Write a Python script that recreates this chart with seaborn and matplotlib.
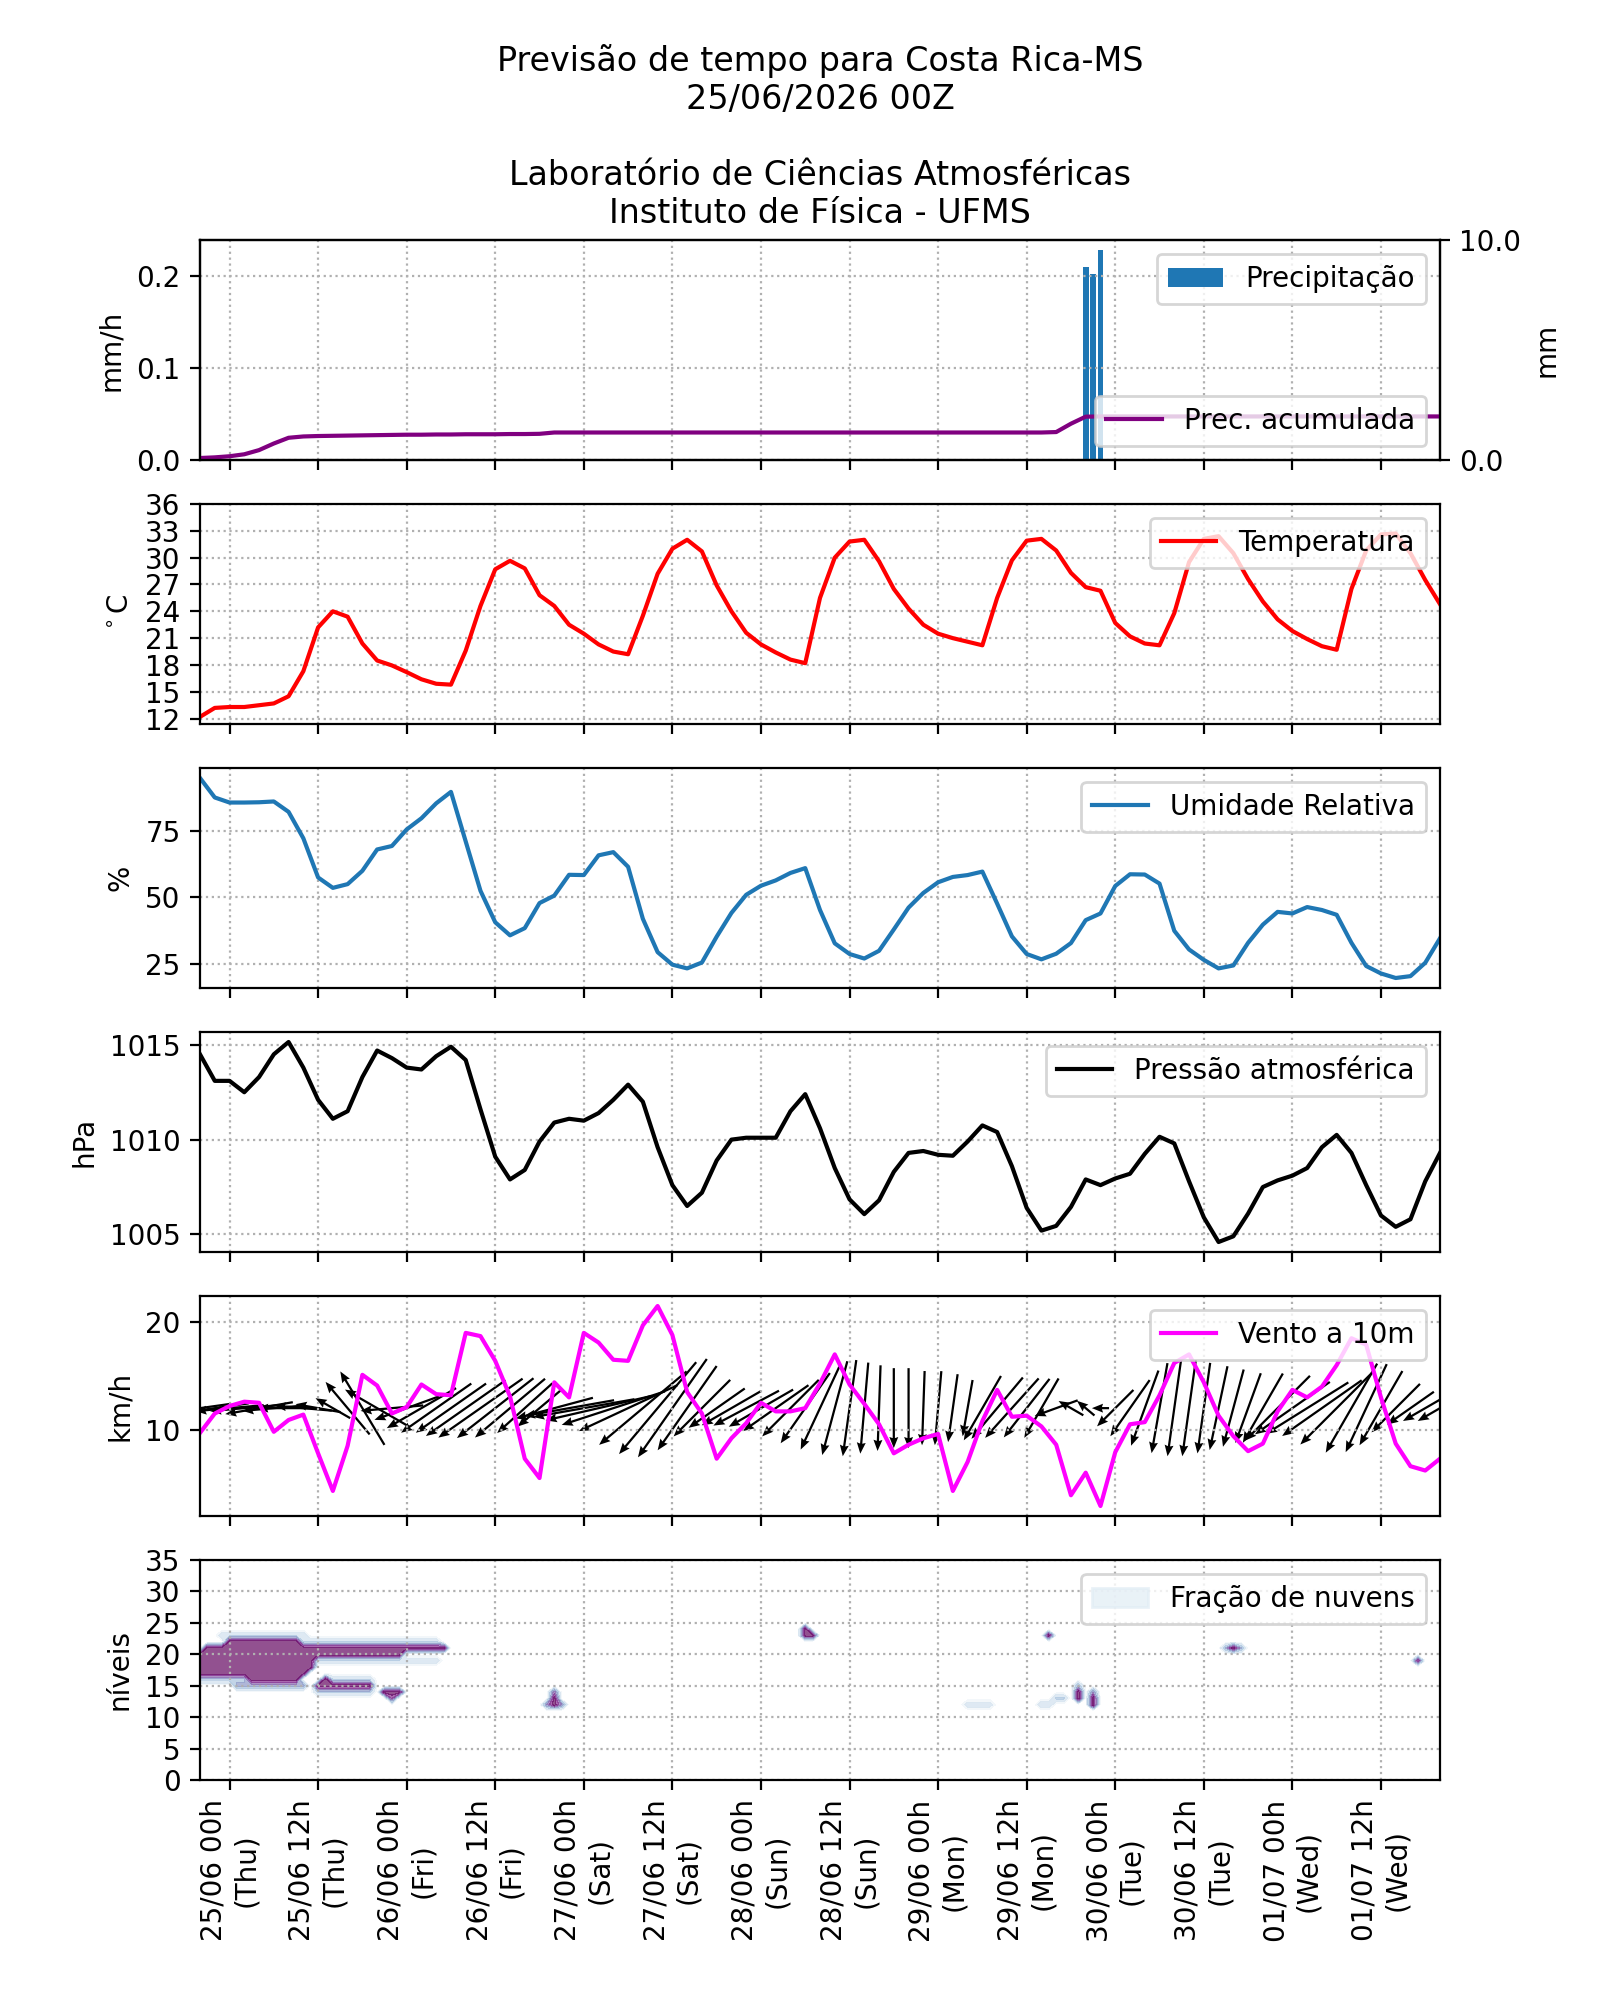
import numpy as np
import matplotlib
matplotlib.use("Agg")
import matplotlib.pyplot as plt
from matplotlib.patches import Patch
from matplotlib.ticker import FormatStrFormatter
import seaborn as sns

# horas a partir de 25/06 00h (hora local), passo de 2h
horas = np.arange(-4, 165, 2)

temperatura = [12.2, 13.2, 13.3, 13.3, 13.5, 13.7, 14.5, 17.3, 22.2, 24.0,
               23.4, 20.4, 18.5, 17.95, 17.2, 16.4, 15.9, 15.8, 19.6, 24.6,
               28.7, 29.65, 28.8, 25.8, 24.6, 22.5, 21.5, 20.3, 19.5, 19.2,
               23.5, 28.2, 31.0, 32.0, 30.7, 26.9, 24.0, 21.6, 20.3, 19.4,
               18.6, 18.2, 25.5, 30.0, 31.8, 32.0, 29.6, 26.5, 24.3, 22.5,
               21.5, 21.0, 20.6, 20.2, 25.5, 29.7, 31.9, 32.1, 30.8, 28.3,
               26.7, 26.3, 22.7, 21.2, 20.4, 20.2, 23.8, 29.5, 32.1, 32.4,
               30.5, 27.6, 25.1, 23.1, 21.8, 20.9, 20.1, 19.7, 26.5, 30.8,
               32.6, 32.7, 30.5, 27.5, 24.8]

umidade = [94.8, 87.5, 85.6, 85.6, 85.7, 86.0, 82.1, 72.2, 57.5, 53.6,
           55.0, 60.0, 68.0, 69.3, 75.5, 79.7, 85.3, 89.6, 71.0, 52.5,
           40.7, 35.8, 38.5, 47.9, 50.7, 58.5, 58.4, 65.8, 67.0, 61.5,
           42.0, 29.5, 24.8, 23.4, 25.6, 35.3, 44.2, 51.0, 54.4, 56.4,
           59.2, 61.0, 45.3, 32.8, 28.8, 27.1, 30.0, 38.0, 46.2, 51.7,
           55.7, 57.7, 58.4, 59.7, 47.7, 35.4, 28.8, 26.8, 28.9, 32.9,
           41.5, 44.0, 54.3, 58.7, 58.6, 55.2, 37.5, 30.5, 26.6, 23.4,
           24.5, 33.0, 39.8, 44.6, 44.0, 46.4, 45.3, 43.5, 33.0, 24.3,
           21.5, 19.8, 20.5, 25.5, 34.7]

pressao = [1014.5, 1013.1, 1013.1, 1012.5, 1013.3, 1014.5, 1015.15, 1013.8, 1012.1, 1011.1,
           1011.5, 1013.3, 1014.7, 1014.3, 1013.8, 1013.7, 1014.4, 1014.9, 1014.2, 1011.6,
           1009.1, 1007.9, 1008.4, 1009.9, 1010.9, 1011.1, 1011.0, 1011.4, 1012.1, 1012.9,
           1012.0, 1009.6, 1007.6, 1006.5, 1007.2, 1008.9, 1010.0, 1010.1, 1010.1, 1010.1,
           1011.5, 1012.4, 1010.6, 1008.5, 1006.85, 1006.07, 1006.8, 1008.3, 1009.3, 1009.4,
           1009.2, 1009.15, 1009.9, 1010.75, 1010.4, 1008.6, 1006.4, 1005.2, 1005.45, 1006.45,
           1007.9, 1007.6, 1007.95, 1008.2, 1009.25, 1010.15, 1009.8, 1007.8, 1005.9, 1004.6,
           1004.9, 1006.1, 1007.5, 1007.85, 1008.1, 1008.5, 1009.6, 1010.25, 1009.3, 1007.6,
           1006.0, 1005.4, 1005.8, 1007.8, 1009.3]

vento = [9.7, 11.5, 12.2, 12.6, 12.5, 9.8, 10.9, 11.4, 7.8, 4.3,
         8.5, 15.1, 14.1, 11.5, 12.1, 14.2, 13.3, 13.2, 19.0, 18.7,
         16.4, 13.1, 7.3, 5.5, 14.4, 13.0, 19.0, 18.1, 16.5, 16.4,
         19.7, 21.5, 18.8, 13.5, 11.5, 7.3, 9.2, 10.6, 12.5, 11.7,
         11.7, 12.0, 14.3, 17.0, 14.2, 12.4, 10.5, 7.8, 8.6, 9.2,
         9.6, 4.3, 7.0, 10.8, 13.7, 11.2, 11.3, 10.3, 8.6, 3.9,
         6.0, 2.9, 7.9, 10.5, 10.7, 13.2, 16.2, 17.0, 14.4, 11.3,
         9.4, 8.0, 8.7, 11.7, 13.7, 13.0, 14.0, 16.0, 18.5, 17.9,
         13.0, 8.7, 6.6, 6.2, 7.3]

# setas: direcao para onde aponta (graus, anti-horario a partir do leste) e comprimento
seta_ang = [188, 188, 185, 185, 190, 185, 180, 175, 170, 150,
            130, 121, 150, 185, 200, 210, 215, 215, 215, 215,
            218, 220, 222, 220, 195, 190, 190, 193, 198, 205,
            220, 230, 235, 235, 225, 215, 210, 208, 210, 215,
            225, 235, 245, 255, 262, 265, 268, 270, 270, 268,
            265, 262, 260, 240, 230, 228, 232, 240, 200, 150,
            140, 180, 225, 235, 250, 260, 262, 262, 262, 258,
            255, 250, 240, 225, 215, 212, 215, 225, 240, 245,
            240, 225, 215, 210, 210]
seta_mag = [11, 12, 12, 12, 12, 11, 11, 10, 8, 7,
            12, 15, 13, 11, 12, 14, 15, 15, 17, 18,
            17, 16, 13, 10, 14, 16, 18, 19, 19, 19,
            20, 21, 21, 18, 14, 12, 12, 13, 13, 14,
            14, 15, 16, 17, 17, 16, 15, 14, 14, 13,
            13, 12, 10, 13, 14, 14, 13, 12, 8, 5,
            4, 3, 9, 12, 14, 16, 17, 17, 16, 15,
            14, 13, 14, 16, 16, 17, 17, 18, 18, 17,
            15, 12, 10, 9, 9]

prec_acum = [0.09, 0.12, 0.17, 0.26, 0.45, 0.75, 1.01, 1.07, 1.09, 1.10,
             1.11, 1.12, 1.13, 1.14, 1.15, 1.15, 1.16, 1.16, 1.17, 1.17,
             1.17, 1.18, 1.18, 1.19, 1.25, 1.25, 1.25, 1.25, 1.25, 1.25,
             1.25, 1.25, 1.25, 1.25, 1.25, 1.25, 1.25, 1.25, 1.25, 1.25,
             1.25, 1.25, 1.25, 1.25, 1.25, 1.25, 1.25, 1.25, 1.25, 1.25,
             1.25, 1.25, 1.25, 1.25, 1.25, 1.25, 1.25, 1.25, 1.27, 1.65,
             1.97, 1.98, 1.98, 1.98, 1.98, 1.98, 1.98, 1.98, 1.98, 1.98,
             1.98, 1.98, 1.98, 1.98, 1.98, 1.98, 1.98, 1.98, 1.98, 1.98,
             1.98, 1.98, 1.98, 1.98, 1.98]

prec_horas = [116, 117, 118]
prec_taxa = [0.210, 0.202, 0.228]

# nuvens: trechos (nivel, hora inicial, hora final, fracao)
nuvem_nivel = [16, 17, 18, 19, 20, 21, 22, 15, 16, 14, 13,
               12, 12, 13, 14, 23, 24, 12, 23, 12, 13,
               13, 14, 15, 12, 13, 14, 21, 21, 19,
               15, 23, 22, 19, 16, 14, 16]
nuvem_ini = [3, -4, -4, -4, -4, -3, 0, 12, 13, 21, 22,
             43, 44, 44, 44, 78, 78, 100, 111, 110, 112,
             115, 115, 115, 117, 117, 117, 135, 136, 161,
             1, -1, 10, 12, -4, 12, 14]
nuvem_fim = [9, 10, 11, 11, 23, 29, 9, 19, 13, 23, 22,
             45, 44, 44, 44, 79, 78, 103, 111, 111, 113,
             115, 115, 115, 117, 117, 117, 137, 136, 161,
             10, 10, 28, 28, 2, 19, 19]
nuvem_frac = [1.0, 1.0, 1.0, 1.0, 1.0, 1.0, 1.0, 1.0, 1.0, 1.0, 0.8,
              0.6, 1.0, 1.0, 0.7, 1.0, 1.0, 0.25, 1.0, 0.3, 0.35,
              1.0, 1.0, 0.45, 1.0, 1.0, 0.6, 0.5, 1.0, 0.9,
              0.5, 0.3, 0.3, 0.25, 0.4, 0.35, 0.3]

tick_horas = [0, 12, 24, 36, 48, 60, 72, 84, 96, 108, 120, 132, 144, 156]
tick_rotulos = ["25/06 00h\n(Thu)", "25/06 12h\n(Thu)", "26/06 00h\n(Fri)",
                "26/06 12h\n(Fri)", "27/06 00h\n(Sat)", "27/06 12h\n(Sat)",
                "28/06 00h\n(Sun)", "28/06 12h\n(Sun)", "29/06 00h\n(Mon)",
                "29/06 12h\n(Mon)", "30/06 00h\n(Tue)", "30/06 12h\n(Tue)",
                "01/07 00h\n(Wed)", "01/07 12h\n(Wed)"]

titulo = ("Previsão de tempo para Costa Rica-MS\n25/06/2026 00Z\n\n"
          "Laboratório de Ciências Atmosféricas\nInstituto de Física - UFMS")

fig, axs = plt.subplots(6, 1, figsize=(8, 10), dpi=200, sharex=True)

# precipitacao
ax = axs[0]
ax.bar(prec_horas, prec_taxa, width=0.8, color="C0", label="Precipitação")
ax.set_ylabel("mm/h")
ax.set_title(titulo)
ax.legend(loc="upper right")
ax2 = ax.twinx()
sns.lineplot(x=horas, y=prec_acum, ax=ax2, color="purple", lw=1.5,
             label="Prec. acumulada")
ax2.set_ylim(0, 10)
ax2.set_yticks([0, 10])
ax2.yaxis.set_major_formatter(FormatStrFormatter("%.1f"))
ax2.set_ylabel("mm")
ax2.legend(loc="lower right")

# temperatura
ax = axs[1]
sns.lineplot(x=horas, y=temperatura, ax=ax, color="red", lw=1.5, label="Temperatura")
ax.set_yticks(np.arange(12, 37, 3))
ax.set_ylim(11.4, 36)
ax.set_ylabel(r"$^\circ$C")
ax.legend(loc="upper right")

# umidade
ax = axs[2]
sns.lineplot(x=horas, y=umidade, ax=ax, color="C0", lw=1.5, label="Umidade Relativa")
ax.set_yticks([25, 50, 75])
ax.set_ylabel("%")
ax.legend(loc="upper right")

# pressao
ax = axs[3]
sns.lineplot(x=horas, y=pressao, ax=ax, color="black", lw=1.5, label="Pressão atmosférica")
ax.set_yticks([1005, 1010, 1015])
ax.set_ylabel("hPa")
ax.legend(loc="upper right")

# vento
ax = axs[4]
sns.lineplot(x=horas, y=vento, ax=ax, color="magenta", lw=1.5, label="Vento a 10m")
ang = np.deg2rad(seta_ang)
u = np.array(seta_mag) * np.cos(ang)
v = np.array(seta_mag) * np.sin(ang)
ax.quiver(horas, np.full(len(horas), 12.0), u, v, pivot="middle", color="k",
          scale=35, scale_units="inches", width=0.0018, headwidth=4, headlength=5)
ax.set_yticks([10, 20])
ax.set_ylabel("km/h")
ax.legend(loc="upper right")

# nuvens
ax = axs[5]
horas_h = np.arange(-4, 165)
niveis = np.arange(0, 36)
frac = np.zeros((len(niveis), len(horas_h)))
for nv, a, b, f in zip(nuvem_nivel, nuvem_ini, nuvem_fim, nuvem_frac):
    cols = (horas_h >= a) & (horas_h <= b)
    frac[nv, cols] = np.maximum(frac[nv, cols], f)
ax.contourf(horas_h, niveis, frac, levels=[0.05, 0.15, 0.3, 0.45, 0.6, 0.75, 0.9, 1.01],
            cmap="BuPu", alpha=0.7)
ax.set_ylim(0, 35)
ax.set_yticks(np.arange(0, 36, 5))
ax.set_ylabel("níveis")
ax.legend(handles=[Patch(color=plt.cm.BuPu(0.12), alpha=0.7, label="Fração de nuvens")],
          loc="upper right")

for ax in axs:
    ax.grid(linestyle=":")
    ax.set_xlim(-4, 164)
axs[-1].set_xticks(tick_horas)
axs[-1].set_xticklabels(tick_rotulos, rotation=90)

plt.savefig("out.png", dpi=200)
